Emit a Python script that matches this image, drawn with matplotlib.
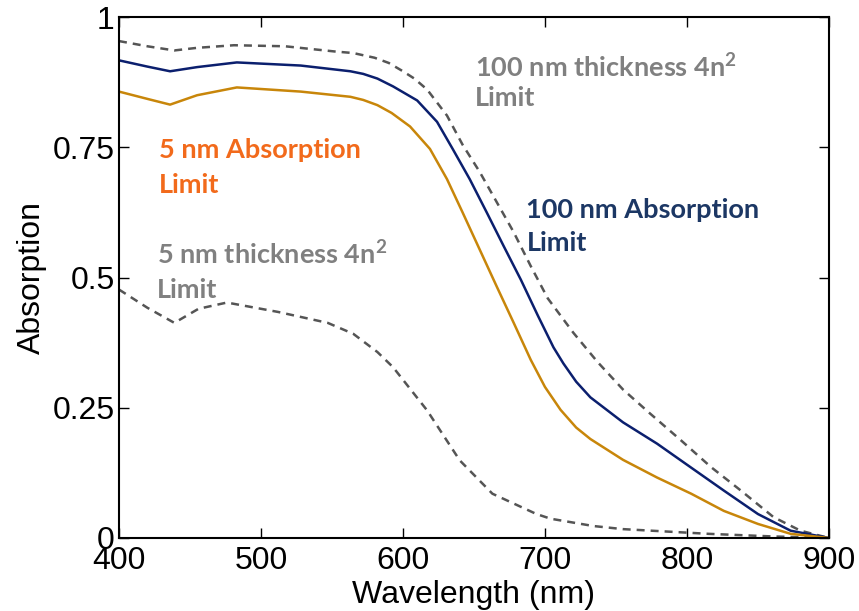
import numpy as np
import matplotlib.pyplot as plt

plt.rcParams['mathtext.fontset'] = 'custom'
plt.rcParams['mathtext.rm'] = 'Lato:bold'
plt.rcParams['mathtext.bf'] = 'Lato:bold'

# wavelength (nm) / absorption
wl_100_4n2 = [400, 420, 439, 455, 481, 517, 552, 565, 580, 590, 600, 608, 617, 631, 642,
              654, 666, 678, 690, 702, 720, 737, 755, 774, 796, 817, 838, 861, 880, 900]
ab_100_4n2 = [0.954, 0.944, 0.936, 0.941, 0.946, 0.944, 0.934, 0.931, 0.922, 0.912, 0.896,
              0.882, 0.861, 0.811, 0.755, 0.703, 0.645, 0.587, 0.522, 0.460, 0.394, 0.338,
              0.285, 0.239, 0.187, 0.136, 0.091, 0.040, 0.014, 0.0]

wl_100_abs = [400, 420, 436, 455, 483, 528, 563, 572, 582, 593, 610, 624, 635, 647, 659,
              671, 683, 695, 706, 713, 722, 732, 755, 779, 803, 826, 850, 873, 900]
ab_100_abs = [0.917, 0.905, 0.896, 0.904, 0.913, 0.907, 0.896, 0.891, 0.882, 0.867, 0.840,
              0.799, 0.747, 0.689, 0.625, 0.560, 0.496, 0.427, 0.366, 0.335, 0.300, 0.270,
              0.222, 0.181, 0.135, 0.091, 0.046, 0.014, 0.0]

wl_5_abs = [400, 420, 436, 455, 483, 528, 563, 572, 582, 592, 605, 619, 631, 642, 654,
            666, 678, 690, 700, 711, 722, 732, 755, 779, 803, 826, 850, 873, 900]
ab_5_abs = [0.857, 0.843, 0.832, 0.850, 0.865, 0.857, 0.847, 0.841, 0.831, 0.816, 0.790,
            0.747, 0.689, 0.625, 0.554, 0.483, 0.413, 0.342, 0.290, 0.246, 0.212, 0.190,
            0.150, 0.116, 0.085, 0.052, 0.027, 0.008, 0.0]

wl_5_4n2 = [400, 420, 439, 456, 476, 512, 547, 565, 582, 593, 617, 640, 663, 694, 704, 734,
            755, 815, 860, 900]
ab_5_4n2 = [0.477, 0.442, 0.413, 0.440, 0.452, 0.434, 0.413, 0.392, 0.357, 0.328, 0.245,
            0.149, 0.085, 0.046, 0.037, 0.023, 0.017, 0.008, 0.003, 0.0]

fig = plt.figure(figsize=(8.59, 6.11), dpi=100)
ax = fig.add_axes([0.1385, 0.1195, 0.8265, 0.8525])

dash = (0, (3.2, 2.4))
ax.plot(wl_100_4n2, ab_100_4n2, color='#555555', lw=1.8, linestyle=dash)
ax.plot(wl_5_4n2, ab_5_4n2, color='#555555', lw=1.8, linestyle=dash)
ax.plot(wl_100_abs, ab_100_abs, color='#0b1f6e', lw=1.8)
ax.plot(wl_5_abs, ab_5_abs, color='#c8860a', lw=1.8)

ax.set_xlim(400, 900)
ax.set_ylim(0, 1)
ax.set_xticks([400, 500, 600, 700, 800, 900])
ax.set_yticks([0, 0.25, 0.5, 0.75, 1])
ax.set_yticklabels(['0', '0.25', '0.5', '0.75', '1'])

tick_font = dict(family='Liberation Sans', size=23)
for lab in ax.get_xticklabels() + ax.get_yticklabels():
    lab.set_fontfamily('Liberation Sans')
    lab.set_fontsize(23)
ax.tick_params(direction='in', length=7, width=1, top=True, right=True, pad=3)
ax.tick_params(axis='x', pad=6)
for s in ax.spines.values():
    s.set_linewidth(1.5)

ax.set_xlabel('Wavelength (nm)', fontdict=tick_font, labelpad=3)
ax.set_ylabel('Absorption', fontdict=tick_font, labelpad=4)

# annotations
note = dict(family='Lato', weight='bold', size=19.5, transform=ax.transData, va='center')
ax.text(651, 0.905, '100 nm thickness 4n$^{2}$', color='#808080', **note)
ax.text(651, 0.845, 'Limit', color='#808080', **note)
ax.text(428, 0.744, '5 nm Absorption', color='#f26a1b', **note)
ax.text(428, 0.677, 'Limit', color='#f26a1b', **note)
ax.text(687, 0.630, '100 nm Absorption', color='#1c3764', **note)
ax.text(687, 0.566, 'Limit', color='#1c3764', **note)
ax.text(427, 0.545, '5 nm thickness 4n$^{2}$', color='#808080', **note)
ax.text(427, 0.477, 'Limit', color='#808080', **note)

fig.savefig('out.png', dpi=100)
